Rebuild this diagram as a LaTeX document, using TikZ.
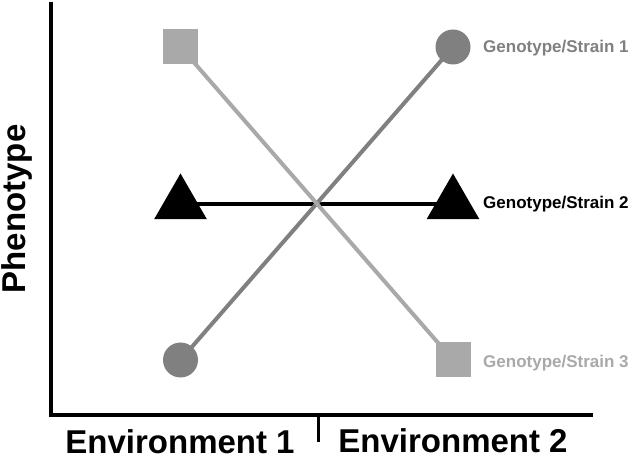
\documentclass[tikz,border=0pt]{standalone}
\usepackage{fontspec}
\setmainfont{Liberation Sans}
\usetikzlibrary{shapes.geometric,backgrounds}
\definecolor{darkg}{HTML}{808080}
\definecolor{lightg}{HTML}{A9A9A9}
\begin{document}
\begin{tikzpicture}[x=1pt,y=-1pt,
  axisline/.style={line width=4pt,black},
  conn/.style={line width=4pt},
  circmark/.style={circle,fill=darkg,minimum size=35pt,inner sep=0pt},
  sqmark/.style={rectangle,fill=lightg,minimum size=35pt,inner sep=0pt},
  trimark/.style={regular polygon,regular polygon sides=3,fill=black,minimum size=61pt,inner sep=0pt},
  biglabel/.style={font=\bfseries\fontsize{33}{36}\selectfont,inner sep=0pt},
  strainlabel/.style={font=\bfseries\fontsize{17}{20}\selectfont,inner sep=0pt,anchor=base west}]
\useasboundingbox (0,0) rectangle (633,457);
% axes
\coordinate (ytop) at (51,2);
\coordinate (origin) at (51,415.5);
\coordinate (xend) at (592.5,415.5);
\coordinate (ticktop) at (318.5,415.5);
\coordinate (tickbot) at (318.5,442);
\draw[axisline,line join=miter] (ytop) -- (origin) -- (xend);
\draw[axisline,line width=3.5pt] (ticktop) -- (tickbot);
% markers
\node[sqmark] (sq1) at (180.5,47) {};
\node[sqmark] (sq2) at (453,360) {};
\node[circmark] (c1) at (180.5,360) {};
\node[circmark] (c2) at (453,47) {};
\node[trimark] (t1) at (180.5,204) {};
\node[trimark] (t2) at (453,204) {};
\begin{scope}[on background layer]
\draw[conn,black] (t1.center) -- (t2.center);
\draw[conn,darkg] (c1.center) -- (c2.center);
\draw[conn,lightg] (sq1.center) -- (sq2.center);
\end{scope}
% labels
\node[strainlabel,text=darkg] (l1) at (483,53) {Genotype/Strain 1};
\node[strainlabel,text=black] (l2) at (483,208.5) {Genotype/Strain 2};
\node[strainlabel,text=lightg] (l3) at (483,368) {Genotype/Strain 3};
\node[biglabel,anchor=base] (e1) at (180,453.5) {Environment 1};
\node[biglabel,anchor=base] (e2) at (453,453) {Environment 2};
\node[biglabel,anchor=base,rotate=90] (ph) at (26,209) {Phenotype};
\end{tikzpicture}
\end{document}
